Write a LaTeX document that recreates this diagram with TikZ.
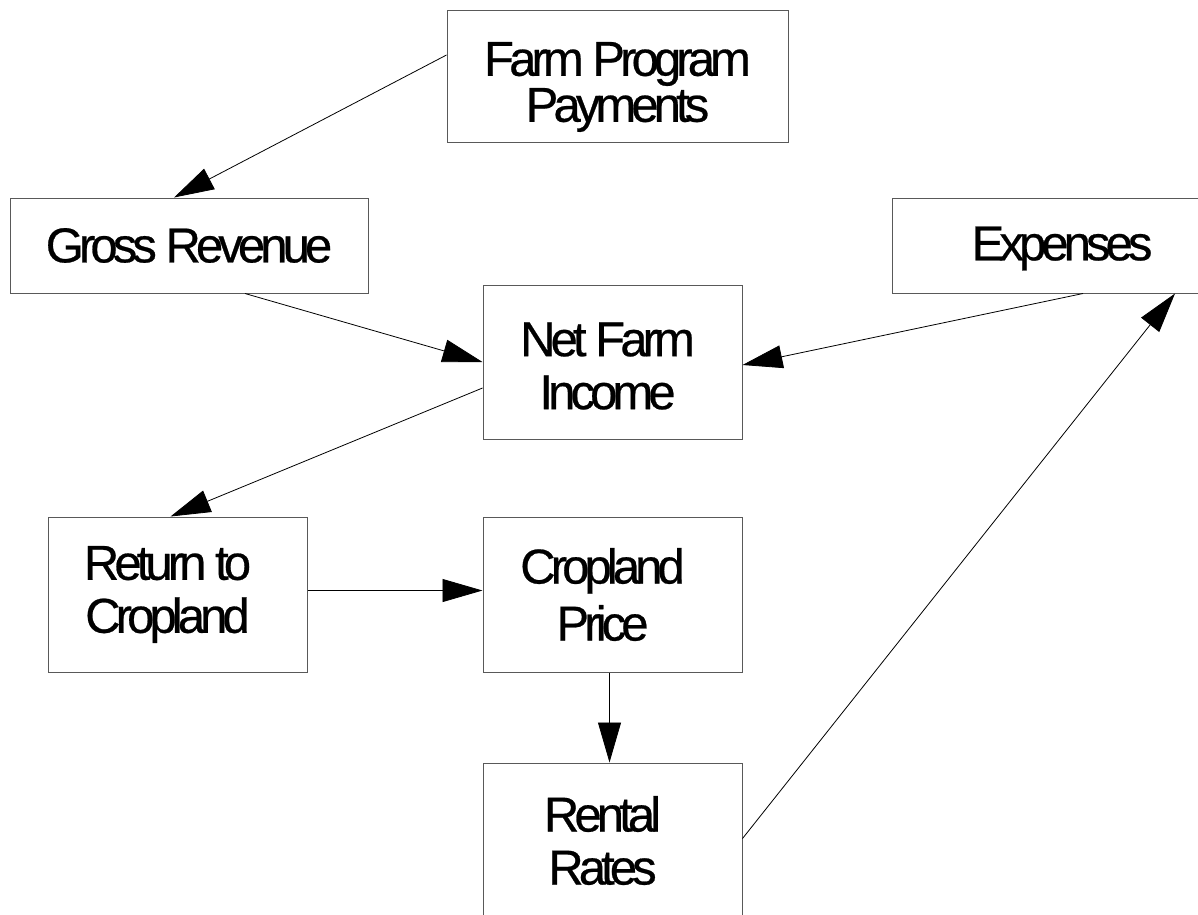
\documentclass[tikz,border=0pt]{standalone}
\usepackage{fontspec}
\setmainfont{Liberation Sans}[LetterSpace=-10,FakeBold=0.5]
\usetikzlibrary{arrows.meta}
\begin{document}
\begin{tikzpicture}[x=1pt,y=-1pt,
		box/.style={draw=black!65,line width=1pt,inner sep=0pt,align=center,font=\fontsize{49}{53}\selectfont},
		lbl/.style={align=center,inner sep=0pt,font=\fontsize{49}{53}\selectfont},
		conn/.style={-{Triangle[length=40pt,width=23pt]},line width=0.8pt,black}]
				\useasboundingbox (0,0) rectangle (1198,914);
				\clip (0,0) rectangle (1198,914);
				
				\node[box,minimum width=341,minimum height=132,label={[lbl,yshift=-11pt,font=\fontsize{49}{46}\selectfont]center:{Farm Program\\Payments}}] (fpp) at (617.5,76) {};
				\node[box,minimum width=358,minimum height=95] (gross) at (189,245.5) {Gross Revenue};
				\node[box,minimum width=340,minimum height=95,label={[lbl,yshift=-3pt]center:{Expenses}}] (exp) at (1062,245.5) {};
				\node[box,minimum width=259,minimum height=154,label={[lbl,xshift=-5pt,yshift=-4pt]center:{Net Farm\\Income}}] (net) at (612.5,362) {};
				
				\node[box,minimum width=259,minimum height=155,label={[lbl,xshift=-10pt]center:{Return to\\Cropland}}] (ret) at (177.5,594.5) {};
				\node[box,minimum width=259,minimum height=155,label={[lbl,xshift=-10pt,font=\fontsize{49}{57}\selectfont]center:{Cropland\\Price}}] (crop) at (612.5,594.5) {};
				\node[box,minimum width=259,minimum height=155,label={[lbl,xshift=-10pt]center:{Rental\\Rates}}] (rent) at (612.5,840.5) {};
				
				\draw[conn] ([yshift=21pt]fpp.west) -- ([xshift=-15pt]gross.north);
				\draw[conn] ([xshift=56pt]gross.south) -- (net.west);
				\draw[conn] ([xshift=21pt]exp.south) -- ([yshift=-3pt]net.east);
				\draw[conn] ([yshift=-26pt]net.west) -- ([xshift=-7pt]ret.north);
				\draw[conn] ([yshift=4pt]ret.east) -- ([yshift=4pt]crop.west);
				\draw[conn] ([xshift=-3pt]crop.south) -- ([xshift=-3pt]rent.north);
				\draw[conn] ([yshift=2pt]rent.east) -- ([xshift=113pt]exp.south);
\end{tikzpicture}
\end{document}
